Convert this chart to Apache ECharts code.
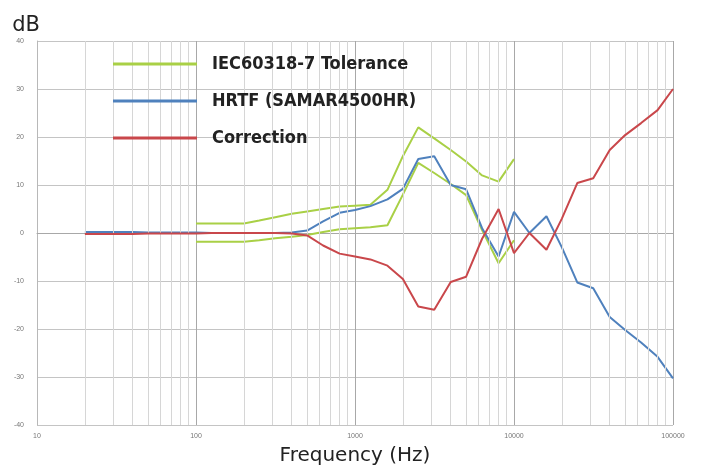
<!DOCTYPE html>
<html>
<head>
<meta charset="utf-8">
<script src="https://cdn.jsdelivr.net/npm/echarts@6/dist/echarts.min.js"></script>
<style>
html,body{margin:0;padding:0;background:#fff;}
#chart{width:712px;height:466px;}
</style>
</head>
<body>
<div id="chart"></div>
<script>
// 1/3-octave frequencies (Hz) for HRTF and Correction
const freqs = [20,25,31.5,40,50,63,80,100,125,160,200,250,315,400,500,630,800,1000,1250,1600,2000,2500,3150,4000,5000,6300,8000,10000,12500,16000,20000,25000,31500,40000,50000,63000,80000,100000];
const hrtf = [0.2,0.2,0.2,0.2,0.1,0.1,0.1,0.1,0.0,0.0,0.0,0.0,0.0,0.1,0.5,2.4,4.2,4.8,5.6,7.0,9.2,15.4,16.0,10.0,9.1,1.0,-4.9,4.4,0.0,3.5,-3.0,-10.3,-11.5,-17.5,-20.2,-22.8,-25.8,-30.3];
const correction = [-0.2,-0.2,-0.2,-0.2,-0.1,-0.1,-0.1,-0.1,0.0,0.0,0.0,0.0,0.0,-0.1,-0.5,-2.6,-4.3,-4.9,-5.5,-6.8,-9.6,-15.3,-16.0,-10.2,-9.1,-1.2,5.0,-4.2,0.0,-3.5,3.0,10.4,11.4,17.3,20.4,22.9,25.6,30.0];
// IEC60318-7 tolerance band
const iecFreqs = [100,125,160,200,250,315,400,500,630,800,1000,1250,1600,2000,2500,3150,4000,5000,6300,8000,10000];
const iecUpper = [2.0,2.0,2.0,2.0,2.6,3.3,4.0,4.5,5.0,5.5,5.7,5.9,9.0,16.0,22.0,19.7,17.3,14.9,12.0,10.7,15.4];
const iecLower = [-1.8,-1.8,-1.8,-1.8,-1.5,-1.1,-0.8,-0.4,0.2,0.8,1.0,1.2,1.6,8.0,14.6,12.5,10.2,7.9,0.6,-6.3,-1.5];
// axis ticks
const decades = [10,100,1000,10000];
const yTicks = [-40,-30,-20,-10,0,10,20,30,40];

const names = {iec:'IEC60318-7 Tolerance', hrtf:'HRTF (SAMAR4500HR)', corr:'Correction'};
const colors = {iec:'#a9d046', hrtf:'#4f81bd', corr:'#c9474b'};

const minorGrid = [];
decades.forEach(d => { for (let m = 2; m <= 9; m++) minorGrid.push(d*m); });

const pairs = (xs, ys) => xs.map((x,i) => [x, ys[i]]);

const lineSeries = (name, color, xs, ys, z) => ({
  type:'line', name, data: pairs(xs, ys), showSymbol:false, symbol:'none',
  lineStyle:{color, width:2}, itemStyle:{color}, z, animation:false, silent:true
});

const chart = echarts.init(document.getElementById('chart'), null, {renderer:'canvas'});
chart.setOption({
  animation:false,
  grid:{left:37, right:39, top:41, bottom:41, outerBoundsMode:'none', containLabel:false},
  legend:{
    orient:'vertical', left:113, top:55, padding:0, itemWidth:84, itemHeight:3, itemGap:19,
    icon:'rect', z:20, zlevel:1,
    data:[names.iec, names.hrtf, names.corr],
    textStyle:{fontFamily:'DejaVu Sans Condensed', fontWeight:'bold', fontSize:18, color:'#222', padding:[0,0,0,10]},
    selectedMode:false
  },
  xAxis:{
    type:'log', logBase:10, min:10, max:100000,
    name:'Frequency (Hz)', nameLocation:'middle', nameGap:21,
    nameTextStyle:{fontFamily:'DejaVu Sans', fontSize:20, color:'#222'},
    axisLine:{show:true, lineStyle:{color:'#a8a8a8'}},
    axisTick:{show:false},
    axisLabel:{fontSize:7, color:'#777', margin:8, fontFamily:'Liberation Sans', formatter: v => String(Math.round(v))},
    splitLine:{show:true, lineStyle:{color:'#a8a8a8', width:1}}
  },
  yAxis:{
    type:'value', min:-40, max:40, interval:10,
    name:'dB', nameLocation:'end', nameGap:5,
    nameTextStyle:{fontFamily:'DejaVu Sans', fontSize:21, color:'#222', align:'right', padding:[0,-3,0,0]},
    axisLine:{show:true, lineStyle:{color:'#b8b8b8'}},
    axisTick:{show:false},
    axisLabel:{fontSize:7, color:'#777', margin:13, fontFamily:'Liberation Sans'},
    splitLine:{show:true, lineStyle:{color:'#c4c4c4', width:1}}
  },
  series:[
    {
      type:'line', name:'_grid', data:[], z:1, silent:true, animation:false,
      markLine:{
        silent:true, symbol:['none','none'], animation:false,
        label:{show:false},
        lineStyle:{color:'#d6d6d6', type:'solid', width:1},
        data: minorGrid.map(v => ({xAxis:v}))
      }
    },
    lineSeries(names.iec, colors.iec, iecFreqs, iecUpper, 3),
    lineSeries(names.iec, colors.iec, iecFreqs, iecLower, 3),
    lineSeries(names.hrtf, colors.hrtf, freqs, hrtf, 4),
    lineSeries(names.corr, colors.corr, freqs, correction, 5)
  ]
});
</script>
</body>
</html>
